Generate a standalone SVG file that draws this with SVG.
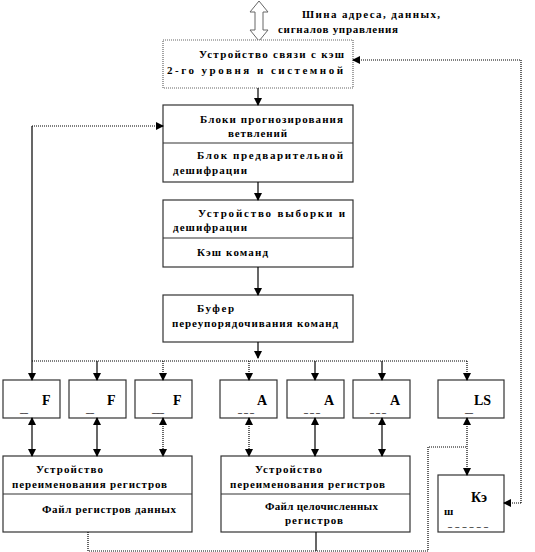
<svg xmlns="http://www.w3.org/2000/svg" width="535" height="552" viewBox="0 0 535 552">
<style>
text{font-family:"Liberation Serif","Times New Roman",serif;font-weight:700;font-size:11px;fill:#000}
.big{font-size:14px}
.u{font-size:8px}
.box{fill:#fff;stroke:#333;stroke-width:1.2}
.dbox{fill:#fff;stroke:#666;stroke-width:1.2;stroke-dasharray:1 1}
.div{stroke:#333;stroke-width:1.2}
.s{fill:none;stroke:#000;stroke-width:1.2}
.d{fill:none;stroke:#000;stroke-width:1.2;stroke-dasharray:1 1}
</style>
<defs>
<marker id="ah" viewBox="0 0 8 8" refX="7" refY="4" markerWidth="8" markerHeight="8" markerUnits="userSpaceOnUse" orient="auto-start-reverse">
<path d="M0,0 L8,4 L0,8 z" fill="#000"/>
</marker>
</defs>
<rect width="535" height="552" fill="#fff"/>

<g id="bus" font-family="Liberation Serif, serif" font-weight="700">
<path d="M259,1 L268,12 L263,12 L263,30 L268,30 L259,41 L250,30 L255,30 L255,12 L250,12 z" fill="#fff" stroke="#666" stroke-width="1"/>
<text x="302" y="18" textLength="138" lengthAdjust="spacing">Шина адреса, данных,</text>
<text x="278" y="33" textLength="120" lengthAdjust="spacing">сигналов управления</text>
</g>

<g id="n1">
<rect class="dbox" x="163" y="40" width="190" height="48"/>
<text x="199" y="58" textLength="145" lengthAdjust="spacing">Устройство связи с кэш</text>
<text x="167" y="74" textLength="176" lengthAdjust="spacing">2-го уровня и системной</text>
</g>

<g id="n2">
<rect class="box" x="163" y="105" width="190" height="77"/>
<line class="div" x1="163" y1="143" x2="353" y2="143"/>
<text x="200" y="123" textLength="143" lengthAdjust="spacing">Блоки прогнозирования</text>
<text x="228" y="137" textLength="59" lengthAdjust="spacing">ветвлений</text>
<text x="197" y="159" textLength="146" lengthAdjust="spacing">Блок предварительной</text>
<text x="173" y="174" textLength="74" lengthAdjust="spacing">дешифрации</text>
</g>

<g id="n3">
<rect class="box" x="163" y="200" width="190" height="67"/>
<line class="div" x1="163" y1="238" x2="353" y2="238"/>
<text x="198" y="217" textLength="147" lengthAdjust="spacing">Устройство выборки и</text>
<text x="173" y="231" textLength="74" lengthAdjust="spacing">дешифрации</text>
<text x="197" y="256" textLength="71" lengthAdjust="spacing">Кэш команд</text>
</g>

<g id="n4">
<rect class="box" x="163" y="295" width="190" height="47"/>
<text x="197" y="312" textLength="37" lengthAdjust="spacing">Буфер</text>
<text x="172" y="327" textLength="166" lengthAdjust="spacing">переупорядочивания команд</text>
</g>

<g id="f1"><rect class="box" x="3" y="380" width="57" height="38"/><text class="big" x="42" y="405">F</text><text class="u" x="20" y="413">__</text></g>
<g id="f2"><rect class="box" x="69" y="380" width="57" height="38"/><text class="big" x="107" y="405">F</text><text class="u" x="86" y="413">__</text></g>
<g id="f3"><rect class="box" x="135" y="380" width="57" height="38"/><text class="big" x="173" y="405">F</text><text class="u" x="152" y="413">___</text></g>
<g id="a1"><rect class="box" x="220" y="380" width="57" height="38"/><text class="big" x="257" y="405">A</text><text class="u" x="238" y="413">_ _ _</text></g>
<g id="a2"><rect class="box" x="287" y="380" width="57" height="38"/><text class="big" x="324" y="405">A</text><text class="u" x="304" y="413">_ _ _</text></g>
<g id="a3"><rect class="box" x="353" y="380" width="57" height="38"/><text class="big" x="390" y="405">A</text><text class="u" x="370" y="413">_ _ _</text></g>
<g id="ls"><rect class="box" x="438" y="380" width="66" height="38"/><text class="big" x="474" y="405">LS</text><text class="u" x="465" y="413">__</text></g>

<g id="rf1">
<rect class="box" x="3" y="456" width="189" height="76"/>
<line class="div" x1="3" y1="494" x2="192" y2="494"/>
<text x="36" y="473" textLength="67" lengthAdjust="spacing">Устройство</text>
<text x="12" y="488" textLength="155" lengthAdjust="spacing">переименования регистров</text>
<text x="42" y="513" textLength="134" lengthAdjust="spacing">Файл регистров данных</text>
</g>

<g id="rf2">
<rect class="box" x="221" y="456" width="189" height="76"/>
<line class="div" x1="221" y1="494" x2="410" y2="494"/>
<text x="255" y="473" textLength="67" lengthAdjust="spacing">Устройство</text>
<text x="230" y="488" textLength="155" lengthAdjust="spacing">переименования регистров</text>
<text x="265" y="510" textLength="113" lengthAdjust="spacing">Файл целочисленных</text>
<text x="285" y="524" textLength="58" lengthAdjust="spacing">регистров</text>
</g>

<g id="dc">
<rect class="box" x="438" y="475" width="66" height="57"/>
<text class="big" x="471" y="502">Кэ</text>
<text x="444" y="515">ш</text>
<text class="u" x="448" y="527" textLength="40" lengthAdjust="spacing">______</text>
</g>

<g id="connectors">
<line class="s" x1="258" y1="88" x2="258" y2="105" marker-end="url(#ah)"/>
<line class="s" x1="258" y1="182" x2="258" y2="200" marker-end="url(#ah)"/>
<line class="s" x1="258" y1="267" x2="258" y2="295" marker-end="url(#ah)"/>
<line class="s" x1="258" y1="342" x2="258" y2="358" marker-end="url(#ah)"/>
<path class="d" d="M32,361 L467,361"/>
<line class="s" x1="32" y1="126" x2="32" y2="380" marker-end="url(#ah)"/>
<line class="d" x1="32" y1="126" x2="163" y2="126" marker-end="url(#ah)"/>
<line class="s" x1="97" y1="361" x2="97" y2="380" marker-end="url(#ah)"/>
<line class="d" x1="163" y1="361" x2="163" y2="380" marker-end="url(#ah)"/>
<line class="d" x1="249" y1="361" x2="249" y2="380" marker-end="url(#ah)"/>
<line class="s" x1="315" y1="361" x2="315" y2="380" marker-end="url(#ah)"/>
<line class="s" x1="382" y1="361" x2="382" y2="380" marker-end="url(#ah)"/>
<line class="d" x1="467" y1="361" x2="467" y2="380" marker-end="url(#ah)"/>
<line class="s" x1="32" y1="418" x2="32" y2="456" marker-start="url(#ah)" marker-end="url(#ah)"/>
<line class="s" x1="97" y1="418" x2="97" y2="456" marker-start="url(#ah)" marker-end="url(#ah)"/>
<line class="d" x1="163" y1="418" x2="163" y2="456" marker-start="url(#ah)" marker-end="url(#ah)"/>
<line class="d" x1="249" y1="418" x2="249" y2="456" marker-start="url(#ah)" marker-end="url(#ah)"/>
<line class="s" x1="315" y1="418" x2="315" y2="456" marker-start="url(#ah)" marker-end="url(#ah)"/>
<line class="s" x1="382" y1="418" x2="382" y2="456" marker-start="url(#ah)" marker-end="url(#ah)"/>
<line class="d" x1="467" y1="418" x2="467" y2="475" marker-start="url(#ah)" marker-end="url(#ah)"/>
<path class="d" d="M521,503 L521,60 L353,60" marker-end="url(#ah)"/>
<line class="d" x1="521" y1="503" x2="504" y2="503" marker-end="url(#ah)"/>
<path class="d" d="M88,532 L88,551 L428,551 L428,447 L467,447"/>
<line class="s" x1="316" y1="532" x2="316" y2="551"/>
</g>
</svg>
